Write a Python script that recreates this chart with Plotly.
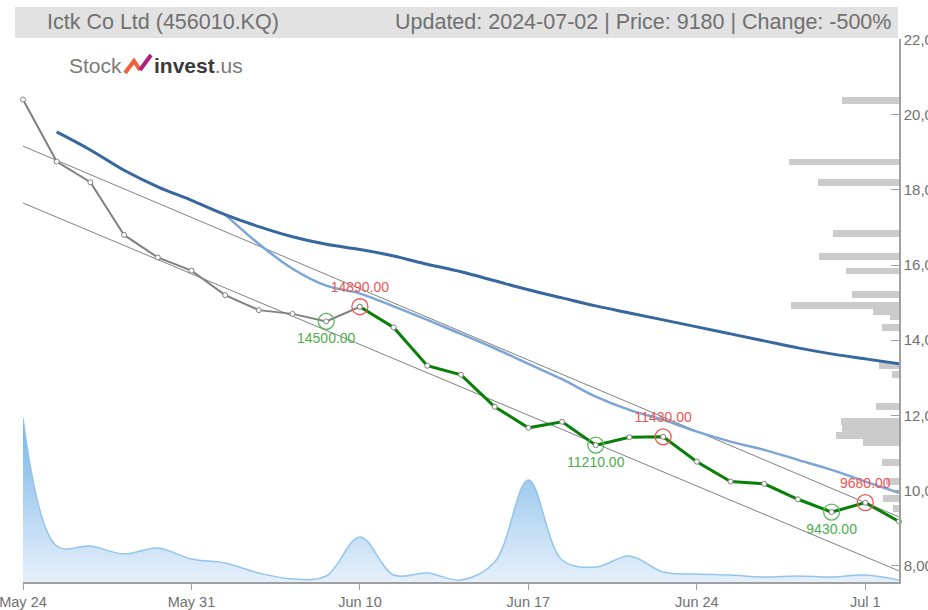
import plotly.graph_objects as go

# ---------------- data ----------------
dates = ["2024-05-24", "2024-05-27", "2024-05-28", "2024-05-29", "2024-05-30", "2024-05-31",
         "2024-06-03", "2024-06-04", "2024-06-05", "2024-06-07", "2024-06-10", "2024-06-11",
         "2024-06-12", "2024-06-13", "2024-06-14", "2024-06-17", "2024-06-18", "2024-06-19",
         "2024-06-20", "2024-06-21", "2024-06-24", "2024-06-25", "2024-06-26", "2024-06-27",
         "2024-06-28", "2024-07-01", "2024-07-02"]
tick_dates = ["2024-05-24", "2024-05-31", "2024-06-10", "2024-06-17", "2024-06-24", "2024-07-01"]
tick_labels = ["May 24", "May 31", "Jun 10", "Jun 17", "Jun 24", "Jul 1"]

close = [20400, 18750, 18200, 16800, 16200, 15850, 15200, 14800, 14700, 14500, 14890, 14340,
         13320, 13080, 12230, 11670, 11830, 11210, 11420, 11430, 10770, 10240, 10180, 9770,
         9430, 9680, 9180]

ma_long = [None, 19540, 19060, 18520, 18080, 17720, 17340, 17020, 16750, 16550, 16410, 16240,
           16020, 15820, 15580, 15340, 15125, 14912, 14726, 14540, 14354, 14168, 13982, 13796,
           13636, 13504, 13371]
ma_short = [None, None, None, None, None, None, 17340, 16560, 15900, 15450, 15240, 14900,
            14540, 14167, 13786, 13369, 12963, 12500, 12146, 11880, 11570, 11304, 11084, 10818,
            10552, 10241, 9940]

volume = [410000, 90000, 90000, 70000, 85000, 57500, 47500, 22500, 7500, 15000, 112500, 17500,
          22500, 5000, 50000, 255000, 55000, 37500, 65000, 25000, 20000, 17500, 12500, 15000,
          12500, 17500, 5000]

trend_dates = ["2024-05-24", "2024-07-02"]
trend_upper = [19162, 9301]
trend_lower = [17649, 7865]

low_dates = ["2024-06-07", "2024-06-19", "2024-06-28"]
low_vals = [14500, 11210, 9430]
high_dates = ["2024-06-10", "2024-06-21", "2024-07-01"]
high_vals = [14890, 11430, 9680]

profile_price = [20379, 18739, 18188, 16833, 16232, 15841, 15211, 14930, 14765, 14619, 14326,
                 13316, 13077, 12226, 11828, 11642, 11456, 11270, 10760, 10241, 9781, 9515]
profile_vol = [57, 110, 81, 66, 80, 53, 47, 108, 26, 9, 17, 20, 7, 23, 58, 57, 63, 36, 17, 13, 16, 6]

title_left = "Ictk Co Ltd (456010.KQ)"
title_right = "Updated: 2024-07-02 | Price: 9180 | Change: -500%"

# ---------------- layout geometry (page pixels; body margin removed by post_script) ----------------
W, H = 928, 610
PL, PR, PT, PB = 23, 899, 39, 582          # plot box in page pixels
L, T = PL, PT
R, B = W - PR, H - PB
PW, PH = PR - PL, PB - PT


def px(xp):
    return (xp - PL) / PW


def py(yp):
    return (PB - yp) / PH


FONT = "Liberation Sans, Arial, sans-serif"

fig = go.Figure()

# volume profile (base subplot so it sits behind lines)
fig.add_trace(go.Bar(
    x=profile_vol, y=profile_price, orientation="h", xaxis="x", yaxis="y",
    marker=dict(color="#cbcbcb", line=dict(width=0)), width=185, hoverinfo="skip",
))

# volume area
fig.add_trace(go.Scatter(
    x=dates, y=volume, xaxis="x2", yaxis="y2", mode="lines",
    line=dict(shape="spline", color="#93c5ec", width=1.5),
    fill="tozeroy",
    fillgradient=dict(type="vertical", start=0, stop=410000,
                      colorscale=[[0, "rgb(230,240,251)"], [1, "rgb(118,180,230)"]]),
    hoverinfo="skip",
))

# trend channel
for tv in (trend_upper, trend_lower):
    fig.add_trace(go.Scatter(
        x=trend_dates, y=tv, xaxis="x2", yaxis="y", mode="lines",
        line=dict(color="#808080", width=1), hoverinfo="skip",
    ))

# moving averages
fig.add_trace(go.Scatter(
    x=dates, y=ma_short, xaxis="x2", yaxis="y", mode="lines",
    line=dict(color="#7aa5d6", width=2.5, shape="spline"),
))
fig.add_trace(go.Scatter(
    x=dates, y=ma_long, xaxis="x2", yaxis="y", mode="lines",
    line=dict(color="#36679f", width=3, shape="spline"),
))

# price lines
fig.add_trace(go.Scatter(
    x=dates[:11], y=close[:11], xaxis="x2", yaxis="y", mode="lines+markers",
    line=dict(color="#808080", width=2),
    marker=dict(size=5, color="white", line=dict(color="#808080", width=1)),
    cliponaxis=False,
))
fig.add_trace(go.Scatter(
    x=dates[10:], y=close[10:], xaxis="x2", yaxis="y", mode="lines+markers",
    line=dict(color="#078007", width=3),
    marker=dict(size=5, color="white", line=dict(color="#808080", width=1)),
    cliponaxis=False,
))

# highlighted lows / highs
fig.add_trace(go.Scatter(
    x=low_dates, y=low_vals, xaxis="x2", yaxis="y", mode="markers+text",
    marker=dict(size=16, color="rgba(0,0,0,0)", line=dict(color="#5cb85c", width=1.3)),
    text=[f"{v:.2f}" for v in low_vals], textposition="bottom center",
    textfont=dict(family=FONT, size=14, color="#4cae4c"), cliponaxis=False,
))
fig.add_trace(go.Scatter(
    x=high_dates, y=high_vals, xaxis="x2", yaxis="y", mode="markers+text",
    marker=dict(size=16, color="rgba(0,0,0,0)", line=dict(color="#f25555", width=1.3)),
    text=[f"{v:.2f}" for v in high_vals], textposition="top center",
    textfont=dict(family=FONT, size=14, color="#f25555"), cliponaxis=False,
))

# ---------------- decorations ----------------
shapes = [
    dict(type="rect", xref="paper", yref="paper", x0=px(15), x1=px(898), y0=py(38), y1=py(7),
         fillcolor="#e2e2e2", line=dict(width=0), layer="below"),
]


def path(points):
    return "M " + " L ".join(f"{px(a):.5f},{py(b):.5f}" for a, b in points)


shapes.append(dict(type="path", xref="paper", yref="paper",
                   path=path([(125, 73), (134, 61), (140, 70)]),
                   line=dict(color="#f0603a", width=4)))
shapes.append(dict(type="path", xref="paper", yref="paper",
                   path=path([(140, 70), (151, 55)]),
                   line=dict(color="#b0207a", width=4)))

annotations = [
    dict(text=title_left, x=px(45), y=py(22), xref="paper", yref="paper", xanchor="left",
         yanchor="middle", showarrow=False, font=dict(family=FONT, size=21.5, color="#707070")),
    dict(text=title_right, x=px(893), y=py(22), xref="paper", yref="paper", xanchor="right",
         yanchor="middle", showarrow=False, font=dict(family=FONT, size=21.5, color="#707070")),
    dict(text="Stock", x=px(67), y=py(65), xref="paper", yref="paper", xanchor="left",
         yanchor="middle", showarrow=False, font=dict(family=FONT, size=21, color="#7a7a7a")),
    dict(text="<span style='color:#3a3a3a'><b>invest</b></span>.us", x=px(152), y=py(65),
         xref="paper", yref="paper", xanchor="left",
         yanchor="middle", showarrow=False, font=dict(family=FONT, size=21, color="#7a7a7a")),
]

fig.update_layout(
    width=W, height=H,
    margin=dict(l=L, r=R, t=T, b=B, pad=0, autoexpand=False),
    paper_bgcolor="white", plot_bgcolor="white",
    showlegend=False,
    bargap=0,
    xaxis=dict(range=[PW, 0], visible=False, fixedrange=True, automargin=False),
    xaxis2=dict(overlaying="x", anchor="y", side="bottom", type="category",
                categoryorder="array", categoryarray=dates,
                range=[0, len(dates) - 1], automargin=False,
                tickmode="array", tickvals=tick_dates, ticktext=tick_labels,
                showline=True, linecolor="#a0a0a0", linewidth=1.5,
                ticks="outside", ticklen=6, tickcolor="#a0a0a0",
                showgrid=False, zeroline=False,
                tickfont=dict(family=FONT, size=14.5, color="#707070")),
    yaxis=dict(side="right", anchor="x", range=[7570, 22010], automargin=False,
               tickmode="array", tickvals=list(range(8000, 22001, 2000)),
               tickformat=",d",
               showline=True, linecolor="#a0a0a0", linewidth=1.5,
               ticks="inside", ticklen=8, tickcolor="#a0a0a0",
               showgrid=False, zeroline=False,
               tickfont=dict(family=FONT, size=15, color="#707070")),
    yaxis2=dict(overlaying="y", range=[0, PH * 2500], visible=False, automargin=False),
    shapes=shapes,
    annotations=annotations,
)

fig.write_html(
    "out.html",
    config={"displayModeBar": False},
    post_script="document.body.style.margin='0';document.body.style.overflow='hidden';",
)
